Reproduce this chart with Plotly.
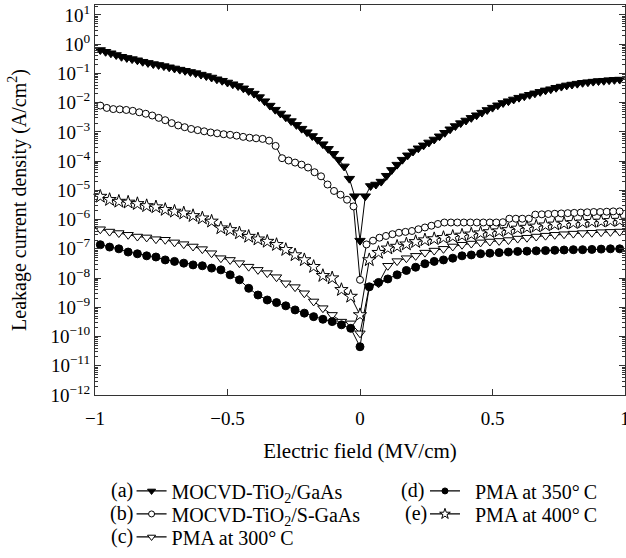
import plotly.graph_objects as go

# ---------------- data (log10 of leakage current density, A/cm^2) ----------------
STEP_A, N_A = 0.02, 49
STEP_B, N_B = 0.0245, 40
STEP_C, N_C = 0.035, 28
X_A = [round(k * STEP_A, 4) for k in range(-N_A, N_A + 1)]
X_B = [round(k * STEP_B, 4) for k in range(-N_B, N_B + 1)]
X_CDE = [round(k * STEP_C, 4) for k in range(-N_C, N_C + 1)]

LOG_A = [-0.2, -0.26, -0.31, -0.37, -0.43, -0.47, -0.51, -0.55, -0.6, -0.64,
         -0.68, -0.71, -0.75, -0.79, -0.83, -0.87, -0.91, -0.95, -0.99, -1.04,
         -1.09, -1.14, -1.2, -1.25, -1.31, -1.37, -1.43, -1.51, -1.6, -1.69,
         -1.81, -1.95, -2.1, -2.24, -2.37, -2.5, -2.63, -2.76, -2.89, -3.01,
         -3.14, -3.27, -3.42, -3.58, -3.75, -3.95, -4.18, -4.6, -5.2,
         -6.72,
         -5.2, -4.85, -4.8, -4.7, -4.5, -4.3, -4.12, -3.95, -3.8, -3.67,
         -3.56, -3.46, -3.36, -3.26, -3.15, -3.03, -2.91, -2.8, -2.7, -2.61,
         -2.52, -2.43, -2.34, -2.25, -2.17, -2.09, -2.01, -1.95, -1.89, -1.83,
         -1.78, -1.73, -1.68, -1.63, -1.58, -1.54, -1.49, -1.45, -1.41, -1.38,
         -1.35, -1.32, -1.3, -1.28, -1.26, -1.25, -1.23, -1.22, -1.21]

LOG_B = [-2.10, -2.18, -2.22, -2.23, -2.25, -2.28, -2.33, -2.38, -2.44, -2.52,
         -2.6, -2.7, -2.78, -2.84, -2.9, -2.94, -2.98, -3.02, -3.05, -3.08,
         -3.1, -3.13, -3.17, -3.2, -3.22, -3.24, -3.3, -3.48, -3.9, -3.98,
         -4.05, -4.12, -4.22, -4.38, -4.52, -4.8, -5.02, -5.15, -5.32, -5.55,
         -8.06,
         -6.85, -6.72, -6.62, -6.56, -6.5, -6.45, -6.42, -6.39, -6.33, -6.27,
         -6.21, -6.15, -6.1, -6.1, -6.1, -6.1, -6.1, -6.1, -6.1, -6.1,
         -6.1, -6.09, -5.97, -5.97, -5.97, -5.97, -5.83, -5.82, -5.81, -5.8,
         -5.79, -5.78, -5.77, -5.76, -5.75, -5.74, -5.74, -5.73, -5.72, -5.72]

LOG_C = [-6.33, -6.41, -6.46, -6.52, -6.58, -6.61, -6.67, -6.69, -6.78, -6.84,
         -6.92, -7.01, -7.15, -7.32, -7.38, -7.49, -7.61, -7.72, -7.83, -7.97,
         -8.18, -8.31, -8.52, -8.80, -9.03, -9.26, -9.49, -9.55,
         -9.89,
         -8.29, -8.18, -7.58, -7.42, -7.32, -7.24, -7.13, -7.06, -7.0, -6.92,
         -6.86, -6.82, -6.78, -6.75, -6.73, -6.70, -6.65, -6.62, -6.58, -6.55,
         -6.52, -6.50, -6.48, -6.46, -6.45, -6.43, -6.42, -6.41]

LOG_D = [-6.86, -6.94, -7.0, -7.11, -7.17, -7.24, -7.28, -7.38, -7.43, -7.49,
         -7.55, -7.58, -7.66, -7.72, -7.89, -8.06, -8.35, -8.58, -8.75, -8.84,
         -8.95, -9.09, -9.20, -9.32, -9.41, -9.49, -9.60, -9.72,
         -10.35,
         -8.3, -8.15, -8.03, -7.89, -7.74, -7.63, -7.51, -7.43, -7.38, -7.32,
         -7.24, -7.21, -7.17, -7.15, -7.13, -7.11, -7.09, -7.08, -7.07, -7.06,
         -7.05, -7.04, -7.03, -7.03, -7.02, -7.01, -7.0, -7.0]

LOG_E = [-5.21, -5.32, -5.38, -5.41, -5.46, -5.53, -5.57, -5.66, -5.72, -5.78,
         -5.87, -5.95, -6.06, -6.29, -6.35, -6.46, -6.58, -6.67, -6.75, -6.86,
         -7.03, -7.21, -7.38, -7.61, -7.92, -8.0, -8.40, -8.63,
         -9.26,
         -7.38, -7.13, -6.98, -6.92, -6.84, -6.76, -6.70, -6.66, -6.62, -6.58,
         -6.54, -6.50, -6.46, -6.42, -6.39, -6.35, -6.30, -6.27, -6.23, -6.19,
         -6.16, -6.13, -6.11, -6.09, -6.07, -6.06, -6.04, -6.03]

SERIES_TAGS = ["(a)", "(b)", "(c)", "(d)", "(e)"]
SERIES_NAMES = ["MOCVD-TiO<sub>2</sub>/GaAs", "MOCVD-TiO<sub>2</sub>/S-GaAs",
                "PMA at 300°\u2009C", "PMA at 350°\u2009C", "PMA at 400°\u2009C"]

X_TICKS = [-1, -0.5, 0, 0.5, 1]
X_TICK_TEXT = ["\u22121", "\u22120.5", "0", "0.5", "1"]
Y_EXPONENTS = list(range(-12, 2))
Y_TICK_TEXT = ["10<sup>%s</sup>" % (("\u2212%d" % -e) if e < 0 else str(e)) for e in Y_EXPONENTS]

# ---------------- figure ----------------
FONT = "Liberation Serif"
FS = 19
LFS = 20

styles = [
    dict(symbol="triangle-down", size=9, color="black", line=dict(color="black", width=1)),
    dict(symbol="circle", size=7, color="white", line=dict(color="black", width=1)),
    dict(symbol="triangle-down", size=9, color="white", line=dict(color="black", width=1)),
    dict(symbol="circle", size=8, color="black", line=dict(color="black", width=1)),
    dict(symbol="star", size=10, color="white", line=dict(color="black", width=1)),
]
legend_sizes = [7, 6, 7, 6, 8]
xs = [X_A, X_B, X_CDE, X_CDE, X_CDE]
logs = [LOG_A, LOG_B, LOG_C, LOG_D, LOG_E]
legend_ids = ["legend", "legend2", "legend3", "legend4", "legend5"]

fig = go.Figure()
for i in range(5):
    fig.add_trace(go.Scatter(
        x=xs[i], y=[10 ** v for v in logs[i]],
        mode="lines+markers", showlegend=False,
        line=dict(color="black", width=1), marker=styles[i], cliponaxis=False,
    ))
# legend-only entries (smaller sample glyphs, as in the reference)
for i in range(5):
    m = dict(styles[i])
    m["size"] = legend_sizes[i]
    fig.add_trace(go.Scatter(
        x=[None], y=[None], mode="lines+markers",
        name=("\u00a0\u00a0" if i >= 3 else "") + SERIES_NAMES[i],
        line=dict(color="black", width=1.3), marker=m,
        legend=legend_ids[i], showlegend=True,
    ))

# legend geometry (paper coords)
row_y = [-0.246, -0.305, -0.364]
leg_pos = [(0.069, row_y[0]), (0.069, row_y[1]), (0.069, row_y[2]),
           (0.6226, row_y[0]), (0.6226, row_y[1])]
tag_pos = [(0.0755, row_y[0]), (0.0755, row_y[1]), (0.0755, row_y[2]),
           (0.6245, row_y[0]), (0.630, row_y[1])]

layout_legends = {}
for i, lid in enumerate(legend_ids):
    layout_legends[lid] = dict(
        x=leg_pos[i][0], y=leg_pos[i][1], xanchor="left", yanchor="middle",
        xref="paper", yref="paper", bgcolor="rgba(0,0,0,0)", borderwidth=0,
        font=dict(family=FONT, size=LFS, color="black"),
    )

annotations = []
for i, tag in enumerate(SERIES_TAGS):
    annotations.append(dict(
        text=tag, x=tag_pos[i][0], y=tag_pos[i][1], xref="paper", yref="paper",
        xanchor="right", yanchor="middle", showarrow=False,
        font=dict(family=FONT, size=LFS, color="black"),
    ))

fig.update_layout(
    width=626, height=558,
    margin=dict(l=95, r=1, t=5, b=163, autoexpand=False),
    paper_bgcolor="white", plot_bgcolor="white",
    font=dict(family=FONT, size=FS, color="black"),
    showlegend=True,
    annotations=annotations,
    **layout_legends,
)

fig.update_xaxes(
    range=[-1, 1], tickmode="array", tickvals=X_TICKS, ticktext=X_TICK_TEXT,
    ticks="inside", ticklen=6, tickwidth=1, tickcolor="#333",
    showline=True, linecolor="#333", linewidth=1, mirror="ticks",
    showgrid=False, zeroline=False, ticklabeloverflow="allow", ticklabelstandoff=6,
    title=dict(text="Electric field (MV/cm)", font=dict(family=FONT, size=21), standoff=15),
    tickfont=dict(family=FONT, size=FS),
)
fig.update_yaxes(
    type="log", range=[-12, 1.34], tickmode="array",
    tickvals=[10.0 ** e for e in Y_EXPONENTS], ticktext=Y_TICK_TEXT,
    ticks="inside", ticklen=6, tickwidth=1, tickcolor="#333",
    minor=dict(dtick="D1", ticks="inside", ticklen=3, tickcolor="#333", showgrid=False),
    showline=True, linecolor="#333", linewidth=1, mirror="ticks",
    showgrid=False, zeroline=False,
    title=dict(text="Leakage current density (A/cm<sup>2</sup>)", font=dict(family=FONT, size=20), standoff=18),
    tickfont=dict(family=FONT, size=FS),
)

fig.write_html("out.html")
